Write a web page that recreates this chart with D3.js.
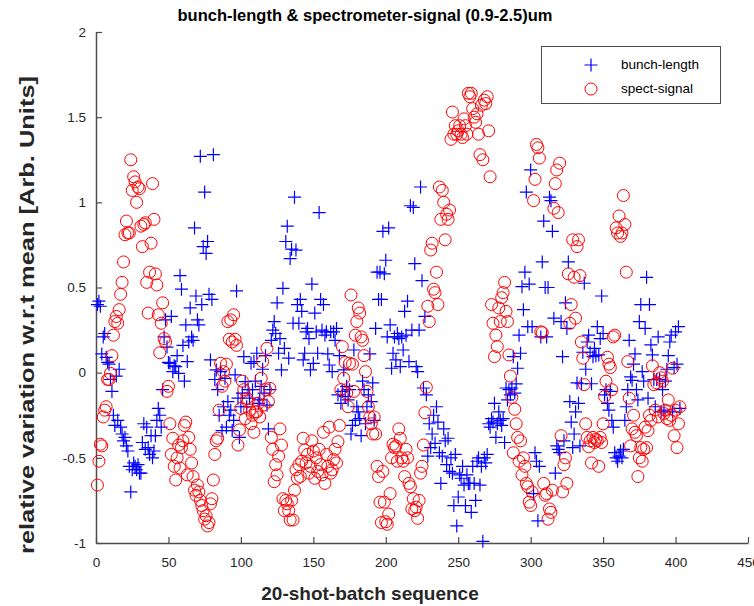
<!DOCTYPE html>
<html>
<head>
<meta charset="utf-8">
<script src="https://cdn.jsdelivr.net/npm/d3@7/dist/d3.min.js"></script>
<style>
  html, body { margin: 0; padding: 0; background: #fff; }
  svg { display: block; font-family: "Liberation Sans", Arial, Helvetica, sans-serif; }
</style>
</head>
<body>
<svg id="chart" width="754" height="606"></svg>
<script>
// Relative variation of each 20-shot batch w.r.t. the mean (batch number = index + 1)
const bunchLength = [
  0.40, 0.42, 0.39, 0.11, 0.21, 0.23, 0.09, 0.06, 0.05, -0.04,
  -0.11, -0.25, -0.31, -0.02, -0.28, 0.02, -0.32, -0.36, -0.40, -0.38,
  -0.43, -0.46, -0.55, -0.70, -0.57, -0.53, -0.55, -0.57, -0.54, -0.59,
  -0.59, -0.41, -0.30, -0.45, -0.32, -0.44, -0.48, -0.37, -0.50, -0.46,
  -0.37, -0.28, -0.21, -0.25, -0.32, -0.10, 0.21, 0.31, 0.15, 0.06,
  0.055, 0.33, 0.006, 0.04, 0.035, 0.10, -0.004, 0.57, 0.49, 0.16,
  -0.05, 0.28, 0.065, 0.18, 0.38, 0.21, 0.19, 0.85, 0.45, 0.31,
  0.28, 1.27, 0.40, 0.74, 1.06, 0.70, 0.77, 0.46, 0.075, 0.43,
  1.28, -0.04, 0.016, -0.10, -0.25, 0.006, -0.34, -0.20, -0.033, -0.32,
  -0.17, -0.25, -0.22, -0.34, -0.28, -0.013, 0.48, -0.15, -0.38, -0.20,
  -0.12, 0.094, -0.053, -0.20, -0.10, -0.15, 0.055, -0.10, 0.065, -0.05,
  0.114, -0.18, -0.16, -0.08, 0.02, -0.12, 0.10, -0.19, -0.33, -0.10,
  0.19, 0.25, 0.30, 0.23, 0.41, 0.114, 0.20, 0.016, 0.495, 0.143,
  0.77, 0.86, 0.085, 0.67, 0.725, 0.29, 1.03, 0.72, 0.40, 0.29,
  0.43, 0.36, 0.075, 0.114, 0.24, 0.26, 0.20, 0.016, 0.52, 0.055,
  0.35, 0.24, 0.114, 0.94, 0.43, 0.25, 0.40, 0.22, 0.24, 0.11,
  0.045, 0.24, 0.006, 0.24, 0.19, 0.26, -0.13, 0.10, -0.18, -0.11,
  0.016, -0.14, -0.08, -0.16, -0.10, -0.36, -0.31, 0.133, -0.28, -0.20,
  -0.23, -0.27, -0.37, -0.05, -0.10, -0.30, -0.20, -0.13, 0.11, -0.17,
  -0.06, -0.28, 0.26, 0.59, 0.43, 0.59, 0.43, 0.83, 0.58, 0.66,
  0.21, 0.85, 0.28, 0.026, 0.114, 0.21, 0.075, 0.23, 0.20, 0.035,
  0.21, 0.133, 0.36, 0.22, 0.42, 0.065, 0.98, 0.25, 0.97, 0.64,
  0.035, 0.006, 0.25, 1.09, 0.54, -0.09, 0.33, -0.13, -0.49, -0.30,
  -0.44, -0.36, -0.25, -0.415, -0.20, -0.29, -0.47, -0.65, -0.49, -0.33,
  -0.40, -0.54, -0.385, -0.58, -0.50, -0.59, -0.78, -0.48, -0.90, -0.73,
  -0.60, -0.62, -0.55, -0.66, -0.78, -0.60, -0.65, -0.65, -0.82, -0.55,
  -0.65, -0.75, -0.52, -0.50, -0.66, -0.55, -0.99, -0.50, -0.53, -0.48,
  -0.30, -0.32, -0.27, -0.29, -0.18, -0.38, -0.30, -0.23, -0.28, -0.31,
  -0.27, -0.41, -0.09, -0.16, -0.10, -0.13, -0.09, 0.094, -0.12, -0.066,
  0.026, 0.22, 0.114, 0.505, 0.37, 0.59, 1.06, 0.27, 0.52, 1.19,
  0.27, -0.71, -0.47, -0.52, -0.87, -0.55, 0.21, 0.65, 0.89, 0.50,
  0.21, 0.50, 1.03, 1.01, 0.83, 0.32, -0.59, -0.43, -0.45, -0.47,
  0.30, 0.094, -0.40, 0.41, 0.26, 0.65, -0.17, -0.29, -0.44, -0.36,
  -0.23, -0.06, -0.18, -0.43, -0.065, 0.12, 0.525, 0.02, 0.18, 0.22,
  0.12, -0.065, 0.094, 0.143, 0.10, 0.27, 0.104, 0.20, 0.45, 0.23,
  -0.13, -0.10, -0.18, -0.22, -0.11, -0.28, -0.32, -0.47, -0.50, -0.52,
  -0.49, -0.46, -0.50, -0.45, -0.28, -0.20, -0.10, 0.19, -0.025, -0.045,
  0.05, 0.11, -0.10, -0.16, 0.30, 0.40, 0.006, -0.05, 0.26, 0.56,
  -0.15, 0.40, 0.163, 0.104, -0.04, -0.20, -0.04, 0.21, -0.04, -0.23,
  -0.10, -0.22, -0.05, 0.02, 0.10, 0.18, 0.22, -0.23, 0.03, 0.24, 0.05, 0.27, -0.21
];

const spectSignal = [
  -0.66, -0.52, -0.42, -0.43, -0.26, -0.22, -0.20, -0.04, -0.04, -0.004,
  0.10, 0.22, 0.30, 0.33, 0.29, 0.37, 0.46, 0.53, 0.65, 0.81,
  0.89, 0.82, 0.82, 1.25, 1.07, 1.15, 1.12, 1.00, 1.09, 1.08,
  0.86, 0.74, 0.87, 0.88, 0.53, 0.35, 0.59, 0.76, 1.11, 0.90,
  0.58, 0.515, 0.34, 0.117, 0.29, 0.41, 0.20, 0.18, -0.11, -0.08,
  -0.30, -0.48, -0.385, -0.55, -0.63, -0.50, -0.425, -0.56, -0.44, -0.40,
  -0.31, -0.29, -0.60, -0.38, -0.45, -0.53, -0.61, -0.69, -0.72, -0.66,
  -0.70, -0.75, -0.78, -0.81, -0.86, -0.84, -0.90, -0.88, -0.77, -0.74,
  -0.63, -0.48, -0.40, -0.385, -0.22, 0.055, -0.08, 0.006, -0.05, 0.05,
  0.30, 0.196, 0.31, 0.18, 0.34, 0.196, 0.16, -0.425, -0.336, -0.21,
  -0.05, -0.10, -0.27, -0.15, -0.17, -0.22, -0.30, -0.25, -0.35, -0.23,
  -0.23, -0.18, -0.26, -0.033, 0.065, -0.19, -0.10, 0.143, -0.17, -0.092,
  -0.38, -0.45, -0.64, -0.54, -0.60, -0.49, -0.33, -0.425, -0.74, -0.81,
  -0.75, -0.77, -0.81, -0.865, -0.75, -0.865, -0.69, -0.57, -0.62, -0.54,
  -0.61, -0.52, -0.385, -0.454, -0.53, -0.48, -0.59, -0.55, -0.40, -0.46,
  -0.62, -0.50, -0.58, -0.45, -0.54, -0.60, -0.35, -0.65, -0.48, -0.55,
  -0.32, -0.59, -0.57, -0.51, -0.45, -0.53, -0.405, -0.31, -0.10, 0.153,
  -0.033, 0.06, -0.12, -0.20, 0.055, 0.456, 0.05, -0.11, 0.22, 0.30,
  0.38, 0.35, 0.21, 0.19, 0.10, 0.006, -0.11, -0.20, -0.26, -0.30,
  -0.36, -0.26, -0.36, -0.55, -0.61, -0.76, -0.88, -0.58, -0.76, -0.875,
  -0.89, -0.83, -0.71, -0.50, -0.42, -0.44, -0.43, -0.52, -0.33, -0.385,
  -0.50, -0.52, -0.61, -0.45, -0.50, -0.65, -0.67, -0.80, -0.74, -0.81,
  -0.79, -0.855, -0.75, -0.59, -0.55, -0.425, -0.235, -0.086, 0.39, 0.30,
  0.72, 0.76, 0.49, 0.47, 0.59, 0.40, 1.09, 0.90, 1.07, 1.00,
  0.78, 0.93, 0.90, 0.955, 1.37, 1.53, 1.40, 1.45, 1.40, 1.42,
  1.45, 1.40, 1.38, 1.49, 1.45, 1.40, 1.64, 1.62, 1.64, 1.55,
  1.50, 1.47, 1.52, 1.40, 1.28, 1.57, 1.25, 1.60, 1.58, 1.62,
  1.42, 1.15, 0.40, 0.29, 0.094, 0.22, 0.153, 0.38, 0.30, 0.44,
  0.47, 0.53, 0.36, 0.30, 0.104, -0.02, -0.145, -0.47, -0.215, -0.30,
  -0.38, -0.52, -0.40, -0.60, -0.50, -0.55, -0.65, -0.67, -0.76, -0.78,
  -0.70, 1.01, 1.135, 1.34, 1.32, 1.26, 0.24, 0.235, -0.65, -0.72,
  -0.71, -0.86, -0.80, -0.82, -0.69, 0.965, 1.11, 1.19, 0.94, 1.23,
  -0.37, -0.70, -0.54, -0.50, -0.65, 0.58, 0.29, 0.40, 0.78, 0.56,
  0.32, 0.74, 0.78, 0.57, 0.18, 0.085, -0.07, -0.30, -0.38, -0.435,
  -0.40, -0.53, -0.38, -0.41, -0.39, -0.40, -0.55, -0.38, -0.41, -0.30,
  -0.14, -0.05, 0.09, 0.05, 0.03, -0.10, 0.21, 0.22, 0.85, 0.82,
  0.92, 0.80, 0.82, 1.04, 0.87, 0.59, 0.065, -0.15, -0.43, -0.33,
  -0.25, -0.35, -0.37, -0.61, -0.50, -0.44, -0.52, -0.45, -0.32, -0.44,
  -0.34, -0.25, -0.28, 0.04, -0.07, -0.22, -0.06, -0.26, 0.0, -0.03,
  -0.05, -0.24, -0.22, -0.27, -0.16, -0.28, -0.25, 0.026, -0.37, -0.22, -0.44, -0.30, -0.20
];

const xTicks = [0, 50, 100, 150, 200, 250, 300, 350, 400, 450];
const yTicks = [-1, -0.5, 0, 0.5, 1, 1.5, 2];
const seriesNames = ["bunch-length", "spect-signal"];
const titleText = "bunch-length & spectrometer-signal (0.9-2.5)um";
const xLabel = "20-shot-batch sequence";
const yLabel = "relative variation w.r.t mean [Arb. Units]";

const svg = d3.select("#chart");
const W = 754, H = 606;
const m = { left: 96, top: 32, right: 6, bottom: 63 };
const iw = W - m.left - m.right, ih = H - m.top - m.bottom;

const x = d3.scaleLinear().domain([0, 450]).range([m.left, m.left + iw]);
const y = d3.scaleLinear().domain([-1, 2]).range([m.top + ih, m.top]);

const axisColor = "#262626";
const lineColor = "#4d4d4d";

// axes with inward ticks
const gx = svg.append("g")
  .attr("transform", `translate(0,${m.top + ih})`)
  .call(d3.axisBottom(x).tickValues(xTicks).tickFormat(d3.format("d"))
    .tickSizeInner(-6).tickSizeOuter(0).tickPadding(14));
const gy = svg.append("g")
  .attr("transform", `translate(${m.left},0)`)
  .call(d3.axisLeft(y).tickValues(yTicks).tickFormat(d => String(d))
    .tickSizeInner(-6).tickSizeOuter(0).tickPadding(10));

[gx, gy].forEach(g => {
  g.select(".domain").attr("stroke", lineColor).attr("stroke-width", 1.5);
  g.selectAll(".tick line").attr("stroke", lineColor).attr("stroke-width", 1.2);
  g.selectAll(".tick text").attr("fill", axisColor)
    .style("font-size", "13.5px");
});

// data layer
const idx = d3.range(bunchLength.length);
const plot = svg.append("g");

const crossSize = 6.5;
plot.append("g").selectAll("path")
  .data(idx)
  .join("path")
  .attr("d", i => {
    const cx = x(i + 1), cy = y(bunchLength[i]);
    return `M${cx - crossSize},${cy}H${cx + crossSize}M${cx},${cy - crossSize}V${cy + crossSize}`;
  })
  .attr("stroke", "#0000ff")
  .attr("stroke-width", 1.2)
  .attr("fill", "none");

plot.append("g").selectAll("circle")
  .data(idx)
  .join("circle")
  .attr("cx", i => x(i + 1))
  .attr("cy", i => y(spectSignal[i]))
  .attr("r", 6)
  .attr("stroke", "#ff0000")
  .attr("stroke-width", 1)
  .attr("fill", "none");

// legend
const lg = svg.append("g");
lg.append("rect")
  .attr("x", 541.5).attr("y", 46.5).attr("width", 179).attr("height", 57)
  .attr("fill", "#fff").attr("stroke", lineColor).attr("stroke-width", 1);
const lx = 591;
lg.append("path")
  .attr("d", `M${lx - crossSize},65H${lx + crossSize}M${lx},${65 - crossSize}V${65 + crossSize}`)
  .attr("stroke", "#0000ff").attr("stroke-width", 1.2);
lg.append("circle").attr("cx", lx).attr("cy", 89).attr("r", 6)
  .attr("stroke", "#ff0000").attr("fill", "none");
lg.selectAll("text")
  .data(seriesNames)
  .join("text")
  .attr("x", 621)
  .attr("y", (d, i) => 64 + i * 24)
  .attr("dy", "0.35em")
  .style("font-size", "13.5px")
  .attr("fill", "#000")
  .text(d => d);

// title and axis labels
svg.append("text")
  .attr("x", 365).attr("y", 21)
  .attr("text-anchor", "middle")
  .style("font-size", "16.5px").style("font-weight", "bold")
  .text(titleText);

svg.append("text")
  .attr("x", 370).attr("y", 600)
  .attr("text-anchor", "middle")
  .style("font-size", "19px").style("font-weight", "bold")
  .attr("fill", axisColor)
  .text(xLabel);

svg.append("text")
  .attr("transform", "translate(34,315) rotate(-90)")
  .attr("text-anchor", "middle")
  .attr("textLength", 478)
  .attr("lengthAdjust", "spacingAndGlyphs")
  .style("font-size", "21px").style("font-weight", "bold")
  .attr("fill", axisColor)
  .text(yLabel);
</script>
</body>
</html>
